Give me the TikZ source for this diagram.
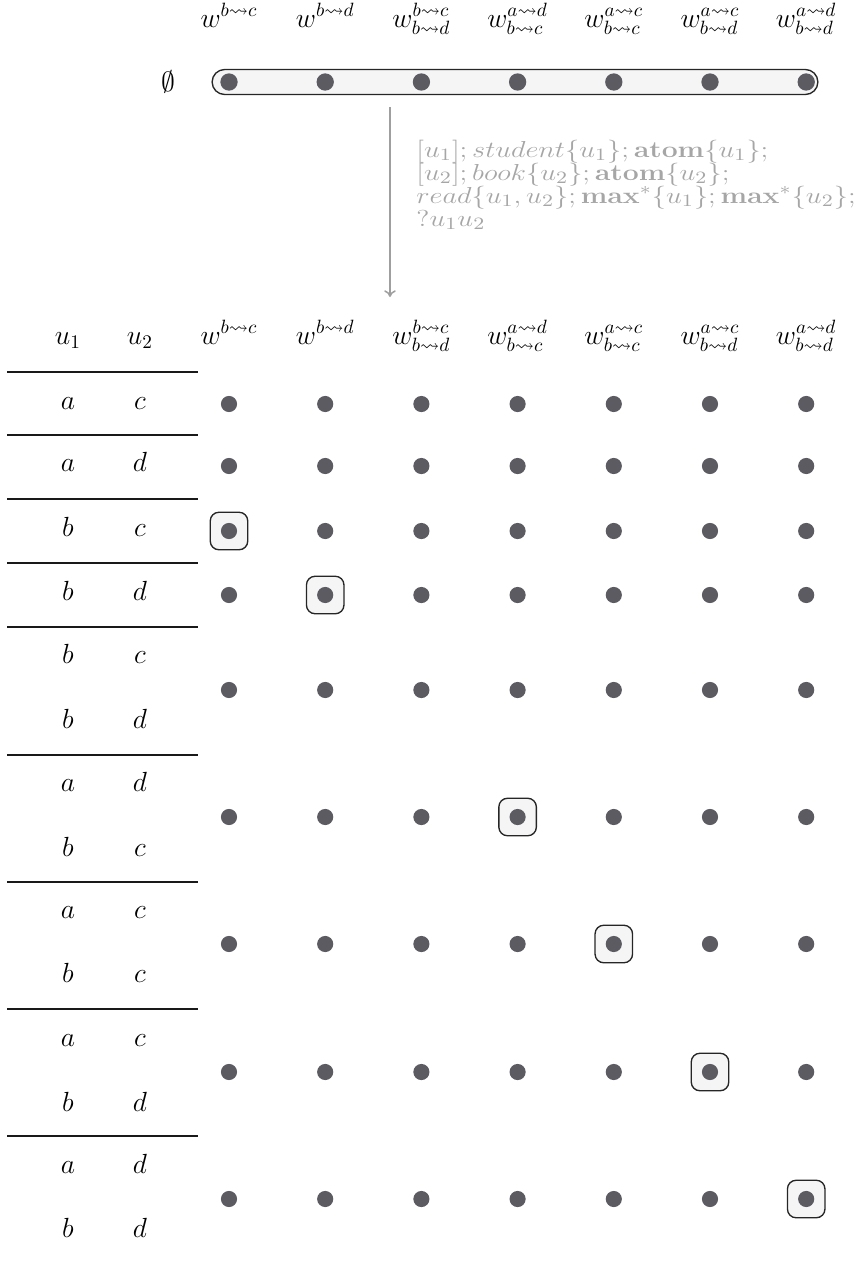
\documentclass[tikz,border=0pt]{standalone}
\usepackage{amsmath,amssymb}
\usepackage{graphicx}
\usepackage{xcolor}
\usetikzlibrary{arrows.meta,positioning,calc}
\definecolor{dotgray}{RGB}{92,91,97}
\definecolor{boxfill}{RGB}{244,245,244}
\newcommand{\updline}[1]{\scalebox{1.23}[1]{\fontsize{12.5}{12}\selectfont$#1$}}

\begin{document}
\begin{tikzpicture}[
    x=0.52pt, y=-0.52pt,
    font=\fontsize{14.4}{12}\selectfont,
    dot/.style={circle, fill=dotgray, inner sep=0pt, minimum size=8.4pt},
    hl/.style={rectangle, draw=black!85, fill=boxfill, line width=0.7pt, rounded corners=4.5pt, minimum size=19.5pt},
    hdr/.style={anchor=base, inner sep=1pt},
    cell/.style={anchor=base, inner sep=1pt},
    rule/.style={line width=1.1pt, black!90},
    arr/.style={-{To[length=3.5pt,width=6pt]}, color=gray!75, line width=0.8pt},
    note/.style={anchor=base west, text=gray!70, inner sep=0pt}
]
\useasboundingbox (0,0) rectangle (858,1265);

% --- Top: the empty assignment ---
\foreach \lab [count=\i] in {{w^{b\rightsquigarrow c}}, {w^{b\rightsquigarrow d}},
    {w^{b\rightsquigarrow c}_{b\rightsquigarrow d}}, {w^{a\rightsquigarrow d}_{b\rightsquigarrow c}},
    {w^{a\rightsquigarrow c}_{b\rightsquigarrow c}}, {w^{a\rightsquigarrow c}_{b\rightsquigarrow d}},
    {w^{a\rightsquigarrow d}_{b\rightsquigarrow d}}}{
  \pgfmathsetmacro{\cx}{229+96.2*(\i-1)}
  \node[hdr] (top\i) at (\cx,27) {$\lab$};
  \node[hdr] (hdr\i) at (\cx,344) {$\lab$};
}
\node (empty) at (168,82) {$\emptyset$};
\node[hl, minimum width=315pt, minimum height=13pt, rounded corners=6.5pt] (emptyrow) at (515,82) {};
\foreach \i in {1,...,7}{
  \pgfmathsetmacro{\cx}{229+96.2*(\i-1)}
  \node[dot, minimum height=9pt] (e\i) at (\cx,82) {};
}

% --- Update arrow ---
\coordinate (arrtop) at (390,107);
\coordinate (arrbot) at (390,297);
\draw[arr] (arrtop) -- (arrbot);
\node[note] (upd1) at (416,157) {\updline{[u_1]; student\{u_1\}; \mathbf{atom}\{u_1\};}};
\node[note] (upd2) at (416,180) {\updline{[u_2]; book\{u_2\}; \mathbf{atom}\{u_2\};}};
\node[note] (upd3) at (416,203) {\updline{read\{u_1,u_2\}; \mathbf{max}^*\{u_1\}; \mathbf{max}^*\{u_2\};}};
\node[note] (upd4) at (416,226) {\updline{?u_1u_2}};

% --- Table of values for u1, u2 ---
\node[hdr] (u1) at (68,344) {$u_1$};
\node[hdr] (u2) at (140,344) {$u_2$};
\foreach \ly in {372,435,499,563,627,755,882,1009,1136}
  \draw[rule] (7,\ly) -- (198,\ly);
\foreach \ly/\va/\vb [count=\k] in {409/a/c, 471/a/d, 536/b/c, 600/b/d,
    663/b/c, 728/b/d, 791/a/d, 856/b/c, 918/a/c, 982/b/c,
    1046/a/c, 1111/b/d, 1173/a/d, 1237/b/d}{
  \node[cell] (a\k) at (68,\ly) {$\va$};
  \node[cell] (b\k) at (140,\ly) {$\vb$};
}

% --- Highlighted outputs ---
\foreach \ry/\c [count=\k] in {531/1, 595/2, 817/4, 944/5, 1072/6, 1199/7}
  \node[hl] (hl\k) at ({229+96.2*(\c-1)},\ry) {};

% --- Grid of worlds ---
\foreach \ry [count=\r] in {404,466,531,595,690,817,944,1072,1199}{
  \foreach \i in {1,...,7}{
    \pgfmathsetmacro{\cx}{229+96.2*(\i-1)}
    \node[dot] (d\r-\i) at (\cx,\ry) {};
  }
}
\end{tikzpicture}
\end{document}
